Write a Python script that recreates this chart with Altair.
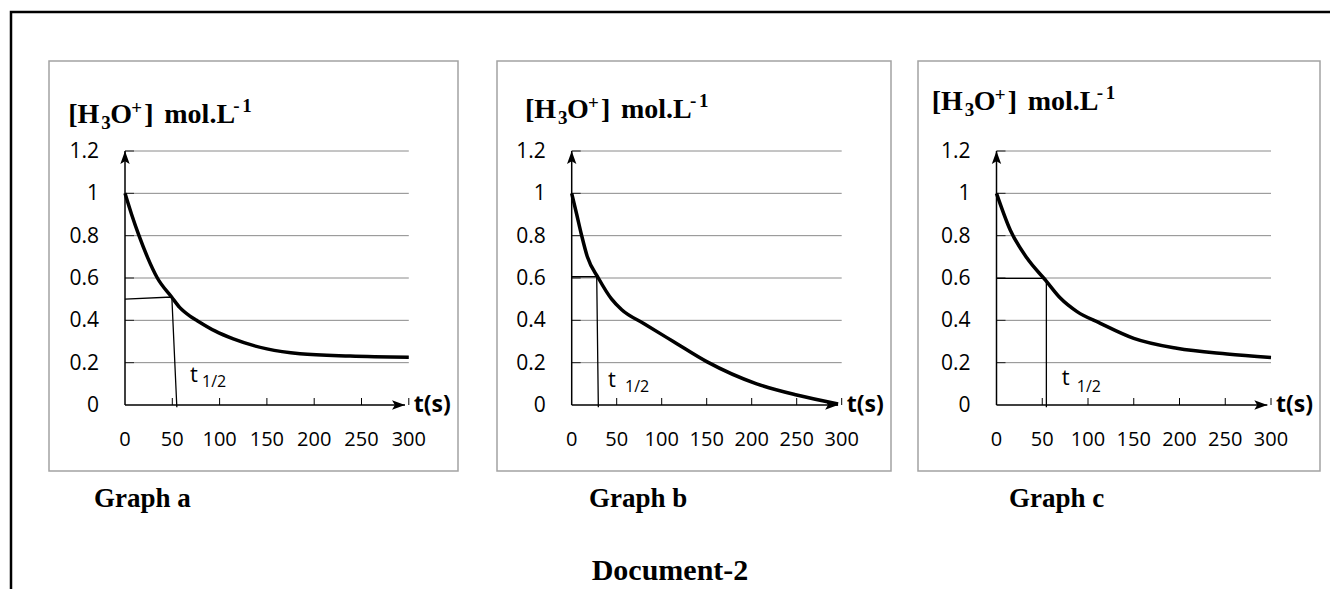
import altair as alt
import pandas as pd

# ---------------- data ----------------
x_ticks = [0, 50, 100, 150, 200, 250, 300]
x_tick_labels = ["0", "50", "100", "150", "200", "250", "300"]
y_ticks = [0, 0.2, 0.4, 0.6, 0.8, 1.0, 1.2]
y_tick_labels = ["0", "0.2", "0.4", "0.6", "0.8", "1", "1.2"]

# Graph a
t_a = [0, 7, 14.8, 23.6, 34.2, 49.3, 58, 68.7, 75.8, 95, 114.5, 150, 185, 238, 300]
c_a = [1.0, 0.9, 0.8, 0.7, 0.6, 0.51, 0.46, 0.42, 0.40, 0.35, 0.312, 0.265, 0.242, 0.231, 0.225]
hl_t_a = [0, 49.5, 54.8]
hl_c_a = [0.50, 0.51, -0.011]
tlab_a = [68.7, 0.109, 81.4, 0.085]

# Graph b
t_b = [0, 5.6, 11.1, 17.4, 29.6, 44.4, 55.6, 80, 112.9, 150, 205.5, 250, 296]
c_b = [1.0, 0.9, 0.8, 0.7, 0.6, 0.5, 0.45, 0.385, 0.3, 0.205, 0.1, 0.047, 0.005]
hl_t_b = [0, 27.8, 29.6]
hl_c_b = [0.606, 0.606, -0.011]
tlab_b = [40.3, 0.087, 59.2, 0.063]

# Graph c
t_c = [0, 15, 33.5, 53.5, 70, 88, 113.5, 150, 197, 252, 300]
c_c = [1.0, 0.827, 0.693, 0.59, 0.504, 0.441, 0.386, 0.315, 0.268, 0.241, 0.224]
hl_t_c = [0, 53.5, 54.5, 54.5]
hl_c_c = [0.598, 0.598, 0.59, -0.011]
tlab_c = [71.3, 0.094, 87.7, 0.063]

x_axis_end = 296
y_axis_end = 1.2

# title pieces: text, x offset, baseline offset, size
title_parts = [
    ("[H", 0, 0, 28),
    ("3", 33, 6, 19),
    ("O", 42, 0, 28),
    ("+", 63, -9, 19),
    ("]", 76, 0, 28),
    ("mol.L", 96, 0, 28),
    ("-", 165, -11, 19),
    ("1", 174, -11, 19),
]

SANS = "Open Sans"
SERIF = "Liberation Serif"


def make_title(x0, y0):
    layers = []
    for txt, dx, dy, size in title_parts:
        layers.append(
            alt.Chart(pd.DataFrame({"lab": [txt]})).mark_text(
                align="left", baseline="alphabetic", font=SERIF, fontSize=size,
                fontWeight="bold", color="black").encode(
                x=alt.value(x0 + dx), y=alt.value(y0 + dy), text="lab:N"))
    return layers


def make_panel(t, c, hl_t, hl_c, tlab, xrange, title_x, title_y):
    xs = alt.Scale(domain=[0, 300], range=xrange, nice=False, zero=False)
    ys = alt.Scale(domain=[0, 1.2], range=[397, 143], nice=False, zero=False)

    def X(f):
        return alt.X(f, type="quantitative", scale=xs, axis=None)

    def Y(f):
        return alt.Y(f, type="quantitative", scale=ys, axis=None)

    grid_df = pd.DataFrame({"v": y_ticks[1:], "t0": 0, "t1": 300})
    grid = alt.Chart(grid_df).mark_rule(color="#8a8a8a", strokeWidth=1).encode(
        x=X("t0"), x2="t1", y=Y("v"))
    yt = alt.Chart(grid_df).mark_rule(color="#222222", strokeWidth=1, x2Offset=9).encode(
        x=X("t0"), x2="t0", y=Y("v"))

    xt_df = pd.DataFrame({"t": x_ticks[1:], "z": 0})
    xt = alt.Chart(xt_df).mark_rule(color="black", strokeWidth=1, y2Offset=-7).encode(
        x=X("t"), y=Y("z"), y2="z")

    ax_df = pd.DataFrame({"t0": [0, 0], "t1": [0, x_axis_end],
                          "c0": [0, 0], "c1": [y_axis_end, 0]})
    axes = alt.Chart(ax_df).mark_rule(color="black", strokeWidth=1.5).encode(
        x=X("t0"), x2="t1", y=Y("c0"), y2="c1")

    up_df = pd.DataFrame({"t": [0], "c": [y_axis_end]})
    up = alt.Chart(up_df).mark_point(
        shape="M0,0 L-0.36,1 L0,0.78 L0.36,1 Z", size=676, filled=True,
        color="black", opacity=1, strokeWidth=0).encode(x=X("t"), y=Y("c"))
    rt_df = pd.DataFrame({"t": [x_axis_end], "c": [0]})
    rt = alt.Chart(rt_df).mark_point(
        shape="M0,0 L-1,-0.36 L-0.78,0 L-1,0.36 Z", size=676, filled=True,
        color="black", opacity=1, strokeWidth=0).encode(x=X("t"), y=Y("c"))

    curve_df = pd.DataFrame({"t": t, "c": c, "o": range(len(t))})
    curve = alt.Chart(curve_df).mark_line(
        color="black", strokeWidth=3.5, interpolate="monotone").encode(
        x=X("t"), y=Y("c"), order="o:Q")

    hl_df = pd.DataFrame({"t": hl_t, "c": hl_c, "o": range(len(hl_t))})
    hl = alt.Chart(hl_df).mark_line(color="black", strokeWidth=1.3).encode(
        x=X("t"), y=Y("c"), order="o:Q")

    yl_df = pd.DataFrame({"v": y_ticks, "lab": y_tick_labels, "t0": 0})
    yl = alt.Chart(yl_df).mark_text(
        align="right", baseline="middle", dx=-26, dy=1, font=SANS, fontSize=21,
        color="black").encode(x=X("t0"), y=Y("v"), text="lab:N")

    xl_df = pd.DataFrame({"t": x_ticks, "lab": x_tick_labels, "z": 0})
    xl = alt.Chart(xl_df).mark_text(
        align="center", baseline="middle", dy=35, font=SANS, fontSize=20,
        color="black").encode(x=X("t"), y=Y("z"), text="lab:N")

    ts_df = pd.DataFrame({"t": [300], "z": [0], "lab": ["t(s)"]})
    ts = alt.Chart(ts_df).mark_text(
        align="left", baseline="middle", dx=5, dy=0, font=SANS, fontSize=23,
        fontWeight="bold", color="black").encode(x=X("t"), y=Y("z"), text="lab:N")

    th_df = pd.DataFrame({"t": [tlab[0]], "c": [tlab[1]], "lab": ["t"]})
    th = alt.Chart(th_df).mark_text(
        align="left", baseline="alphabetic", font=SANS, fontSize=22,
        color="black").encode(x=X("t"), y=Y("c"), text="lab:N")
    th2_df = pd.DataFrame({"t": [tlab[2]], "c": [tlab[3]], "lab": ["1/2"]})
    th2 = alt.Chart(th2_df).mark_text(
        align="left", baseline="alphabetic", font=SANS, fontSize=16,
        color="black").encode(x=X("t"), y=Y("c"), text="lab:N")

    layers = [grid, yt, xt, axes, up, rt, curve, hl, yl, xl, ts, th, th2]
    layers += make_title(title_x, title_y)
    return alt.layer(*layers)


pa = make_panel(t_a, c_a, hl_t_a, hl_c_a, tlab_a, [117, 400.8], 60.3, 114.7)
pb = make_panel(t_b, c_b, hl_t_b, hl_c_b, tlab_b, [563.7, 833.7], 517, 109.5)
pc = make_panel(t_c, c_c, hl_t_c, hl_c_c, tlab_c, [988.5, 1263], 923.7, 101.5)

one = pd.DataFrame({"k": [0]})


def box(x, x2, y, y2, color, width):
    return alt.Chart(one).mark_rect(fill=None, filled=False, stroke=color,
                                    strokeWidth=width, clip=True).encode(
        x=alt.value(x), x2=alt.value(x2), y=alt.value(y), y2=alt.value(y2))


def caption(text, x, y, size=27, align="left"):
    return alt.Chart(pd.DataFrame({"lab": [text]})).mark_text(
        align=align, baseline="alphabetic", font=SERIF, fontSize=size,
        fontWeight="bold", color="black").encode(
        x=alt.value(x), y=alt.value(y), text="lab:N")


deco = alt.layer(
    box(3, 1400, 4, 700, "black", 2.5),
    box(41, 450, 53, 463, "#a3a3a3", 1.5),
    box(489, 883, 53, 463, "#a3a3a3", 1.5),
    box(910, 1312, 53, 463, "#a3a3a3", 1.5),
    caption("Graph a", 86, 499),
    caption("Graph b", 581, 499),
    caption("Graph c", 1001, 499),
    caption("Document-2", 662, 572, size=30, align="center"),
)

chart = alt.layer(deco, pa, pb, pc).resolve_scale(
    x="independent", y="independent"
).properties(
    width=1322, height=581, padding=0, autosize=alt.AutoSizeParams(type="none")
).configure_view(stroke=None)

chart.save("out.html", embed_options={"renderer": "svg", "actions": False})
